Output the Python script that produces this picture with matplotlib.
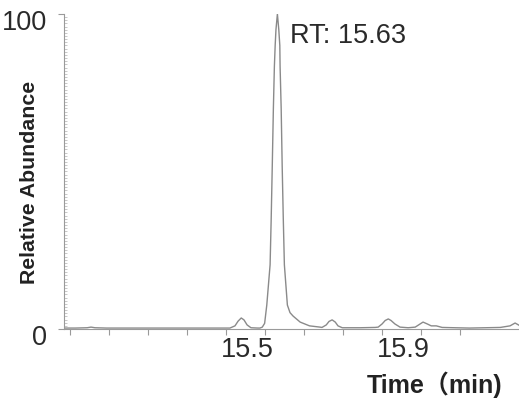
import matplotlib
matplotlib.use("Agg")
import matplotlib.pyplot as plt
import matplotlib.transforms as mtransforms

# chromatogram trace (time in min, relative abundance in %)
time = [15.030, 15.060, 15.090, 15.100, 15.110, 15.140, 15.200, 15.300, 15.400,
        15.440, 15.456, 15.469, 15.477, 15.485, 15.492, 15.500, 15.510, 15.528,
        15.533, 15.539, 15.545, 15.5505, 15.559, 15.5618, 15.5646, 15.5674,
        15.570, 15.5720, 15.5740, 15.5777,
        15.5813, 15.5839, 15.5846, 15.5874, 15.590, 15.5928, 15.5956, 15.6033,
        15.610, 15.618, 15.636, 15.660, 15.687,
        15.692, 15.703, 15.710, 15.718, 15.726, 15.733, 15.744, 15.790, 15.828,
        15.836, 15.846, 15.854, 15.862, 15.869, 15.879, 15.892, 15.913,
        15.931, 15.941, 15.951, 15.962, 15.972, 15.985, 16.000, 16.033,
        16.070, 16.110, 16.149, 16.174, 16.187, 16.197]
abundance = [0.3, 0.3, 0.4, 0.6, 0.4, 0.3, 0.3, 0.3, 0.3,
             0.3, 0.3, 1.0, 2.5, 3.5, 2.9, 1.3, 0.4, 0.3,
             0.3, 0.6, 1.8, 7.6, 20.4, 35.0, 52.0, 70.0,
             83.4, 90.0, 95.0, 100.0,
             95.0, 90.0, 83.4, 70.0, 51.6, 35.0, 20.4, 7.6,
             5.2, 4.1, 2.2, 1.0, 0.6,
             0.5, 1.3, 2.4, 2.9, 2.2, 1.0, 0.4, 0.4, 0.5,
             0.6, 1.6, 2.7, 3.2, 2.7, 1.6, 0.6, 0.4,
             0.6, 1.4, 2.2, 1.6, 1.0, 1.0, 0.5, 0.4,
             0.3, 0.4, 0.5, 1.0, 1.9, 1.2]

x_label_pos = [15.5, 15.9]
x_label_text = ["15.5", "15.9"]
x_tick_marks = [15.046, 15.146, 15.246, 15.346, 15.446, 15.546,
                15.646, 15.746, 15.846, 15.946, 16.046]
y_ticks = [0, 100]
rt_text = "RT: 15.63"

plt.rcParams['font.family'] = ['Liberation Sans', 'Noto Sans CJK JP', 'DejaVu Sans']

fig = plt.figure(figsize=(5.19, 4.03), dpi=100)
ax = fig.add_axes([0.1224, 0.1836, 0.8776, 0.7817])

ax.plot(time, abundance, color='#8a8a8a', linewidth=1.0)

ax.set_xlim(15.0295, 16.197)
ax.set_ylim(0, 100)

for side in ['top', 'right']:
    ax.spines[side].set_visible(False)
for side in ['left', 'bottom']:
    ax.spines[side].set_color('#9a9a9a')
    ax.spines[side].set_linewidth(0.8)

# x: labels without marks, marks without labels
ax.set_xticks(x_label_pos)
ax.set_xticklabels(x_label_text)
ax.set_xticks(x_tick_marks, minor=True)
ax.tick_params(axis='x', which='major', length=0, pad=6, labelsize=19.5,
               labelcolor='#2a2a2a')
ax.tick_params(axis='x', which='minor', length=4, width=0.8, color='#9a9a9a',
               direction='out')

ax.set_yticks(y_ticks)
ax.set_yticks(range(0, 101, 1), minor=True)
ax.tick_params(axis='y', which='major', length=4, width=0.8, color='#9a9a9a',
               direction='out', labelsize=19.5, labelcolor='#2a2a2a', pad=8)
ax.tick_params(axis='y', which='minor', length=2, width=0.5, color='#b0b0b0',
               direction='in')
offset = mtransforms.ScaledTranslation(0, -4.3 / 72, fig.dpi_scale_trans)
for lab in ax.get_yticklabels():
    lab.set_transform(lab.get_transform() + offset)

fig.text(30 / 519, 1 - 182 / 403, 'Relative Abundance', rotation=90,
         fontsize=15.3, fontweight='bold', color='#222222',
         ha='center', va='center')
fig.text(435 / 519, 1 - 385 / 403, 'Time（min)', fontsize=18,
         fontweight='bold', color='#222222', ha='center', va='center')
fig.text(290 / 519, 1 - 36 / 403, rt_text, fontsize=19.5,
         color='#2a2a2a', ha='left', va='center')

fig.savefig('out.png', dpi=100)
